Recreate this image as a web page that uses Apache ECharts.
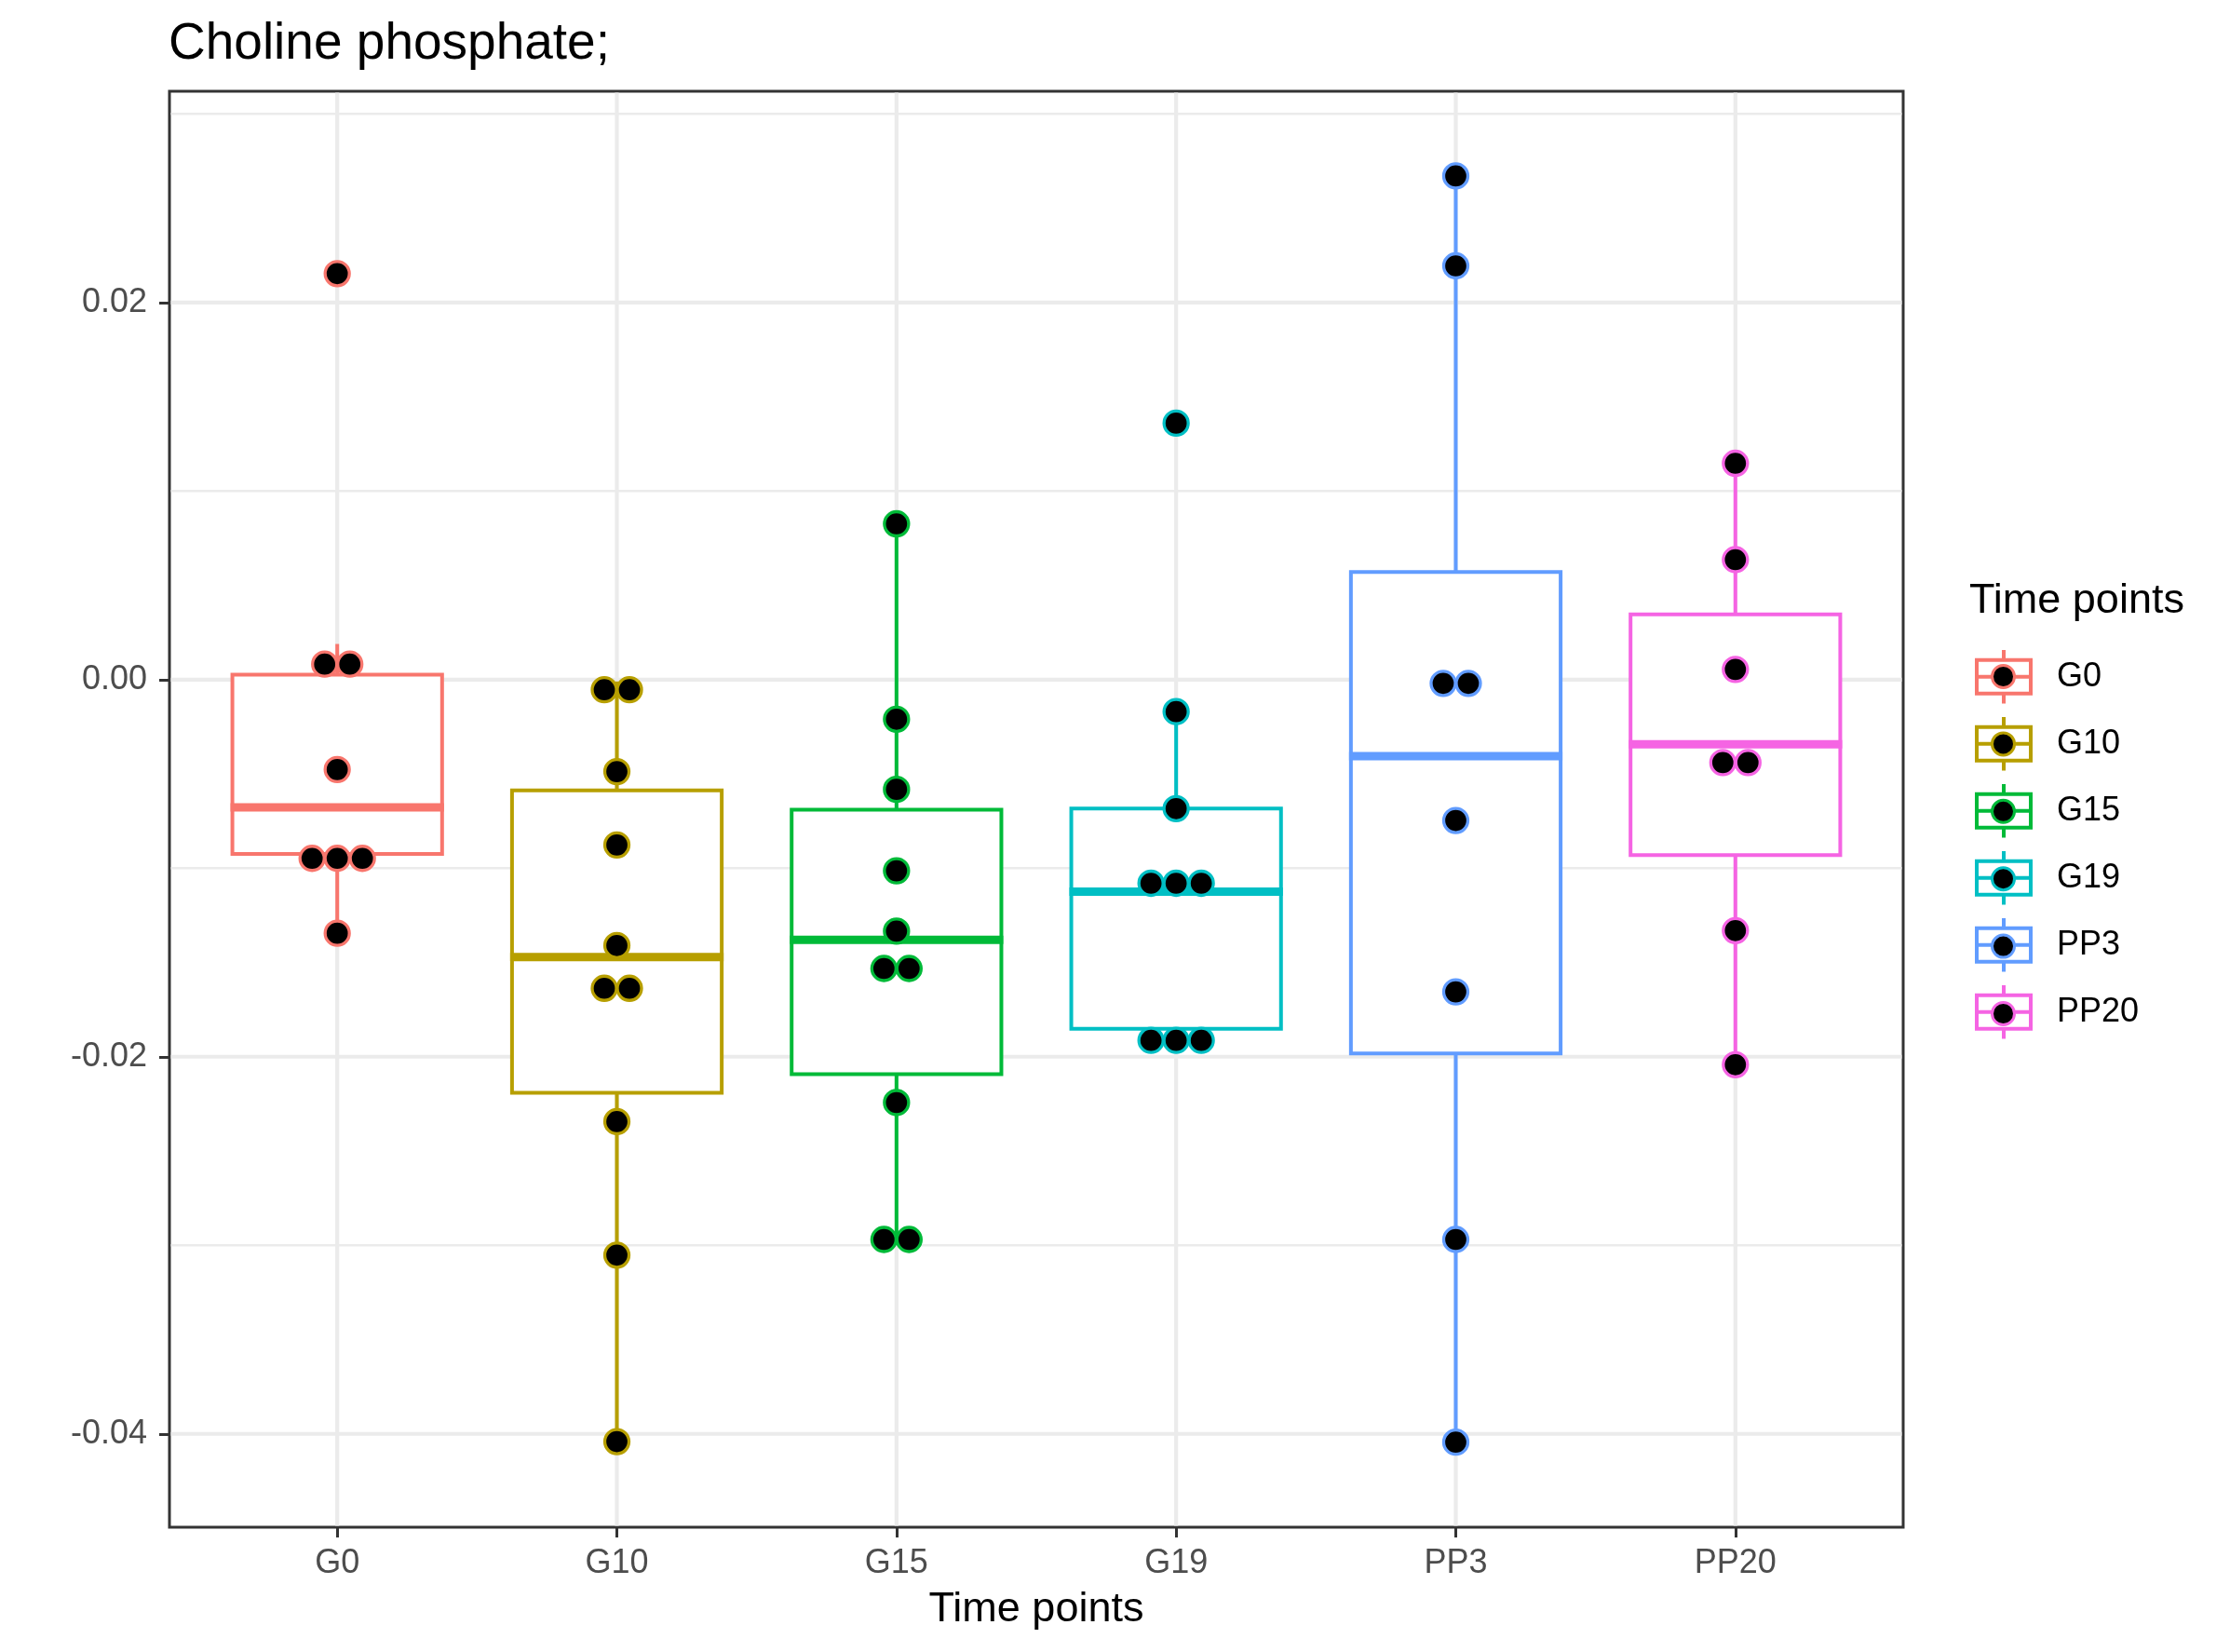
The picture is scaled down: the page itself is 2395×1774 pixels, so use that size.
<!DOCTYPE html>
<html><head><meta charset="utf-8">
<script src="https://cdn.jsdelivr.net/npm/echarts@6/dist/echarts.min.js"></script>
<style>html,body{margin:0;padding:0;background:#fff}#c{width:2395px;height:1774px}</style>
</head><body><div id="c"></div>
<script>
// ---- data ----
const categories = ['G0', 'G10', 'G15', 'G19', 'PP3', 'PP20'];
const colors = ['#F8766D', '#B79F00', '#00BA38', '#00BFC4', '#619CFF', '#F564E3'];
// box statistics: [lower whisker, Q1, median, Q3, upper whisker]
const boxG0   = [-0.01345, -0.00925, -0.00678, 0.00026, 0.00189];
const boxG10  = [-0.04040, -0.02191, -0.01472, -0.00587, -0.00010];
const boxG15  = [-0.02969, -0.02092, -0.01380, -0.00690, 0.00826];
const boxG19  = [-0.01913, -0.01852, -0.01124, -0.00684, -0.00170];
const boxPP3  = [-0.04044, -0.01982, -0.00406, 0.00571, 0.02671];
const boxPP20 = [-0.02042, -0.00931, -0.00343, 0.00346, 0.01147];
// individual points (dot plot)
const ptsG0   = [0.02153, 0.00082, 0.00082, -0.00477, -0.00948, -0.00948, -0.00948, -0.01345];
const ptsG10  = [-0.00054, -0.00054, -0.00488, -0.00877, -0.01410, -0.01637, -0.01637, -0.02344, -0.03052, -0.04041];
const ptsG15  = [0.00826, -0.00210, -0.00582, -0.01014, -0.01334, -0.01532, -0.01532, -0.02243, -0.02969, -0.02969];
const ptsG19  = [0.01360, -0.00170, -0.00684, -0.01080, -0.01080, -0.01080, -0.01913, -0.01913, -0.01913];
const ptsPP3  = [0.02671, 0.02194, -0.00020, -0.00020, -0.00747, -0.01656, -0.02969, -0.04044];
const ptsPP20 = [0.01147, 0.00636, 0.00054, -0.00440, -0.00440, -0.01331, -0.02042];
const yTicks = [-0.04, -0.02, 0.00, 0.02];
const yMinor = [-0.03, -0.01, 0.01, 0.03];
const xTicks = [0, 1, 2, 3, 4, 5];

const boxes = [boxG0, boxG10, boxG15, boxG19, boxPP3, boxPP20];
const points = [ptsG0, ptsG10, ptsG15, ptsG19, ptsPP3, ptsPP20];

const FONT = "'Liberation Sans', Arial, Helvetica, sans-serif";
const DOT_STEP = 27;

// dot-plot stacking: equal values are centred side by side
function stackIndex(vals) {
  const counts = {}, seen = {};
  vals.forEach(v => counts[v] = (counts[v] || 0) + 1);
  return vals.map(v => {
    const n = counts[v];
    const i = (seen[v] = (seen[v] || 0) + 1) - 1;
    return i - (n - 1) / 2;
  });
}

function renderBox(params, api) {
  const i = api.value(0);
  const xc = api.coord([i, 0])[0];
  const hw = api.size([0.75, 0])[0] / 2;
  const y = k => api.coord([i, api.value(k)])[1];
  const yMin = y(1), yQ1 = y(2), yMed = y(3), yQ3 = y(4), yMax = y(5);
  const c = colors[i];
  return {
    type: 'group', children: [
      {type: 'line', shape: {x1: xc, y1: yQ3, x2: xc, y2: yMax}, style: {stroke: c, lineWidth: 4}},
      {type: 'line', shape: {x1: xc, y1: yQ1, x2: xc, y2: yMin}, style: {stroke: c, lineWidth: 4}},
      {type: 'rect', shape: {x: xc - hw, y: yQ3, width: 2 * hw, height: yQ1 - yQ3}, style: {fill: '#ffffff', stroke: c, lineWidth: 4}},
      {type: 'line', shape: {x1: xc - hw - 2, y1: yMed, x2: xc + hw + 2, y2: yMed}, style: {stroke: c, lineWidth: 9}}
    ]
  };
}

function renderPoint(params, api) {
  const i = api.value(0);
  const p = api.coord([i, api.value(1)]);
  return {
    type: 'circle',
    shape: {cx: p[0] + api.value(2) * DOT_STEP, cy: p[1], r: 13},
    style: {fill: '#000000', stroke: colors[i], lineWidth: 3.3}
  };
}

function renderHGrid(params, api) {
  const cs = params.coordSys;
  const yy = api.coord([0, api.value(0)])[1];
  return {type: 'line', shape: {x1: cs.x + 1.5, y1: yy, x2: cs.x + cs.width - 1.5, y2: yy},
          style: {stroke: '#EBEBEB', lineWidth: api.value(1)}};
}
function renderVGrid(params, api) {
  const cs = params.coordSys;
  const xx = api.coord([api.value(0), 0])[0];
  return {type: 'line', shape: {x1: xx, y1: cs.y + 1.5, x2: xx, y2: cs.y + cs.height - 1.5},
          style: {stroke: '#EBEBEB', lineWidth: 4.2}};
}

const hGridData = yMinor.map(v => [v, 2.4]).concat(yTicks.map(v => [v, 4.2]));

const series = [
  {type: 'custom', silent: true, z: 1, renderItem: renderHGrid, data: hGridData,
   encode: {y: 0}},
  {type: 'custom', silent: true, z: 1, renderItem: renderVGrid, data: xTicks.map(v => [v]),
   encode: {x: 0}}
];
categories.forEach((c, i) => {
  series.push({
    type: 'custom', name: c, silent: true, z: 2, renderItem: renderBox,
    data: [[i].concat(boxes[i])]
  });
});
categories.forEach((c, i) => {
  const st = stackIndex(points[i]);
  series.push({
    type: 'custom', name: c, silent: true, z: 3, renderItem: renderPoint,
    data: points[i].map((v, k) => [i, v, st[k]])
  });
});

const boxIcon = 'path://M29,0L29,10.8M0,10.8L58,10.8L58,46.8L0,46.8ZM0,28.8L58,28.8M29,46.8L29,57.6';

const chart = echarts.init(document.getElementById('c'), null, {renderer: 'canvas'});
chart.setOption({
  animation: false,
  backgroundColor: '#ffffff',
  title: [
    {text: 'Choline phosphate;', left: 181, top: 20, padding: 0,
     textStyle: {fontSize: 55, fontWeight: 'normal', color: '#000000', fontFamily: FONT}},
    {text: 'Time points', left: 2115, top: 623, padding: 0,
     textStyle: {fontSize: 45, fontWeight: 'normal', color: '#000000', fontFamily: FONT}}
  ],
  grid: {left: 182, top: 98, width: 1862, height: 1542, show: true,
         borderColor: '#333333', borderWidth: 3, backgroundColor: '#ffffff',
         outerBoundsMode: 'none'},
  xAxis: {
    type: 'value', min: -0.6, max: 5.6,
    splitLine: {show: false}, axisLine: {show: false, onZero: false},
    axisTick: {show: true, length: 11, customValues: xTicks, lineStyle: {color: '#333333', width: 3}},
    axisLabel: {customValues: xTicks, formatter: v => categories[Math.round(v)],
                fontSize: 36, color: '#4D4D4D', margin: 21, fontFamily: FONT},
    name: 'Time points', nameLocation: 'middle', nameGap: 66,
    nameTextStyle: {fontSize: 45, color: '#000000', fontFamily: FONT}
  },
  yAxis: {
    type: 'value', min: -0.04495, max: 0.0312,
    splitLine: {show: false}, axisLine: {show: false, onZero: false},
    axisTick: {show: true, length: 11, customValues: yTicks, lineStyle: {color: '#333333', width: 3}},
    axisLabel: {customValues: yTicks, formatter: v => v.toFixed(2),
                fontSize: 36, color: '#4D4D4D', margin: 24, fontFamily: FONT}
  },
  legend: [
    {orient: 'vertical', left: 2121, top: 696, itemWidth: 58, itemHeight: 58, itemGap: 10.4,
     padding: 0, selectedMode: false, icon: boxIcon,
     data: categories.map((c, i) => ({name: c, itemStyle: {color: 'rgba(0,0,0,0)', borderColor: colors[i], borderWidth: 4}})),
     textStyle: {fontSize: 36, color: '#000000', fontFamily: FONT, padding: [0, 0, 0, 23]}},
    {orient: 'vertical', left: 2138, top: 713, itemWidth: 24, itemHeight: 24, itemGap: 45.4,
     padding: 0, selectedMode: false, icon: 'circle',
     data: categories.map((c, i) => ({name: c, itemStyle: {color: '#000000', borderColor: colors[i], borderWidth: 3}})),
     textStyle: {fontSize: 8, color: 'rgba(0,0,0,0)'}}
  ],
  series: series
});
</script></body></html>
